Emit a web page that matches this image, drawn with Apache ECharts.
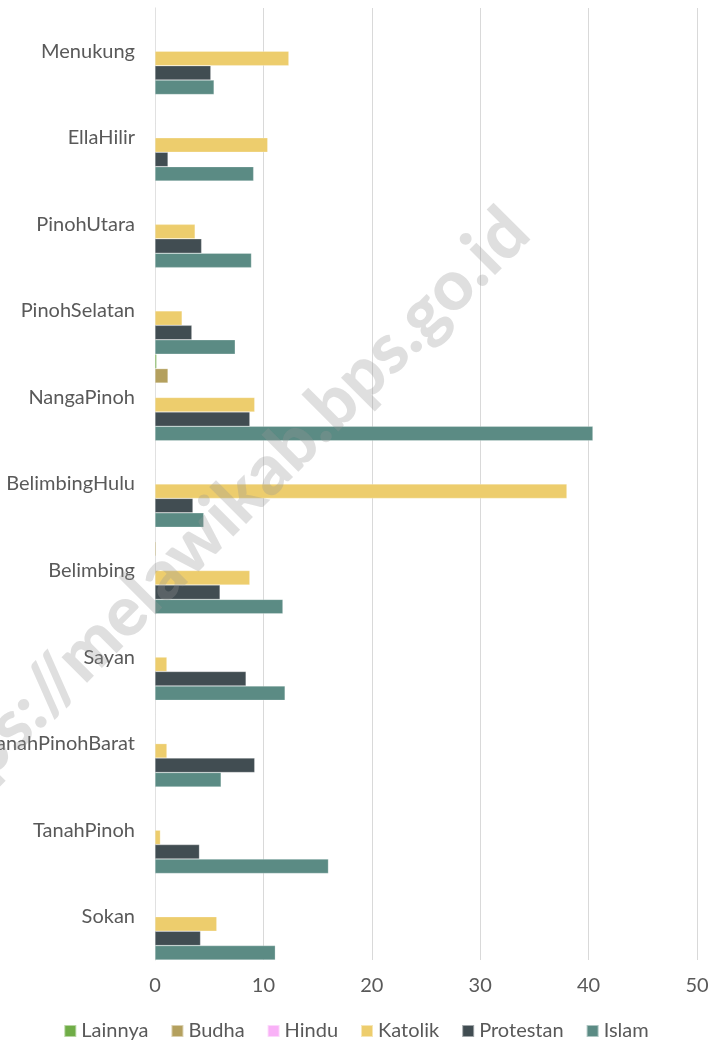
<!DOCTYPE html>
<html>
<head>
<meta charset="utf-8">
<script src="https://cdn.jsdelivr.net/npm/echarts@6/dist/echarts.min.js"></script>
<style>
  html, body { margin: 0; padding: 0; background: #fff; }
  #chart { width: 712px; height: 1043px; }
</style>
</head>
<body>
<div id="chart"></div>
<script>
var dom = document.getElementById("chart");
var chart = echarts.init(dom);

// categories listed bottom to top
var kecamatan = ['Sokan', 'TanahPinoh', 'TanahPinohBarat', 'Sayan', 'Belimbing',
    'BelimbingHulu', 'NangaPinoh', 'PinohSelatan', 'PinohUtara', 'EllaHilir', 'Menukung'];

var lainnya   = [0, 0, 0, 0, 0, 0, 0.15, 0, 0, 0, 0];
var budha     = [0, 0, 0, 0, 0.1, 0, 1.2, 0, 0, 0, 0];
var hindu     = [0, 0, 0, 0, 0, 0, 0, 0, 0, 0, 0];
var katolik   = [5.7, 0.5, 1.1, 1.1, 8.75, 38.0, 9.2, 2.5, 3.7, 10.4, 12.35];
var protestan = [4.2, 4.1, 9.2, 8.4, 6.0, 3.5, 8.75, 3.4, 4.3, 1.2, 5.15];
var islam     = [11.1, 16.0, 6.1, 12.0, 11.8, 4.5, 40.4, 7.4, 8.9, 9.1, 5.45];

var seriesNames = ['Lainnya', 'Budha', 'Hindu', 'Katolik', 'Protestan', 'Islam'];
var seriesData = [lainnya, budha, hindu, katolik, protestan, islam];
var colors = ['#70AD47', '#B4A05E', '#F9B1F7', '#EDCD6D', '#414D52', '#5B8B84'];

var textFont = 'Lato';

chart.setOption({
    animation: false,
    color: colors,
    grid: { left: 155, right: 15, top: 8, bottom: 83, containLabel: false, outerBoundsMode: 'none' },
    legend: {
        data: seriesNames,
        top: 1016,
        left: 'center',
        itemWidth: 12,
        itemHeight: 12,
        itemGap: 22,
        icon: 'rect',
        textStyle: { fontFamily: textFont, fontSize: 20, color: '#595959' }
    },
    xAxis: {
        type: 'value',
        min: 0,
        max: 50,
        interval: 10,
        axisLine: { show: false },
        axisTick: { show: false },
        splitLine: { lineStyle: { color: '#D9D9D9', width: 1 } },
        axisLabel: { fontFamily: textFont, fontSize: 20, color: '#595959', margin: 16 }
    },
    yAxis: {
        type: 'category',
        data: kecamatan,
        axisLine: { show: true, lineStyle: { color: '#D9D9D9' } },
        axisTick: { show: false },
        axisLabel: { fontFamily: textFont, fontSize: 20, color: '#595959', margin: 20 }
    },
    series: seriesNames.map(function (name, i) {
        return {
            name: name,
            type: 'bar',
            data: seriesData[i],
            barGap: '0%',
            barCategoryGap: '0%',
            itemStyle: { borderColor: 'rgba(255,255,255,0.5)', borderWidth: 0.5 }
        };
    }),
    graphic: [{
        type: 'text',
        x: 213,
        y: 525,
        rotation: Math.PI / 4,
        z: 100,
        style: {
            text: 'https://melawikab.bps.go.id',
            font: '900 70px Lato',
            fill: 'rgba(150,150,150,0.3)',
            align: 'center',
            verticalAlign: 'middle'
        }
    }]
});
</script>
</body>
</html>
